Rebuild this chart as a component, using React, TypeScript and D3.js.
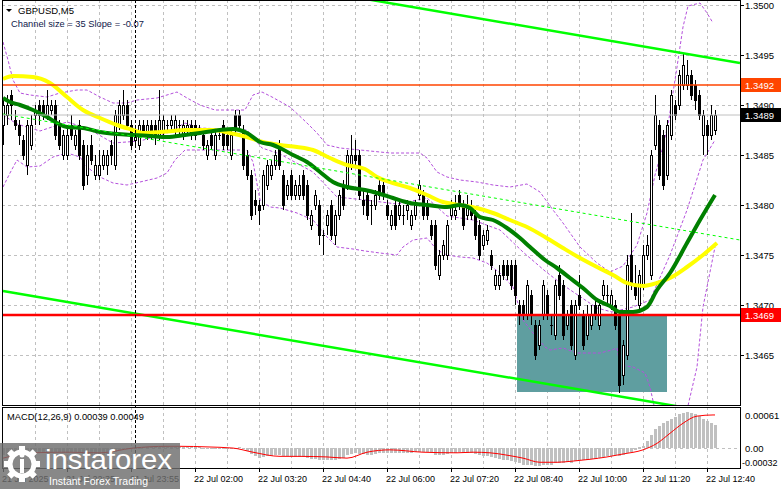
import * as d3 from "d3";

// GBPUSD M5 candles: [open, high, low, close]
const CANDLES: [number, number, number, number][] = [
  [1.3488, 1.34905, 1.3486, 1.349], [1.3489, 1.3491, 1.3488, 1.349], [1.3491, 1.34915, 1.34885, 1.349],
  [1.34885, 1.34895, 1.34875, 1.3488], [1.3488, 1.34885, 1.3486, 1.3487], [1.34865, 1.3487, 1.34845, 1.3485],
  [1.3484, 1.34885, 1.3483, 1.3488], [1.3486, 1.3489, 1.34855, 1.3488], [1.3489, 1.349, 1.3488, 1.34895],
  [1.349, 1.34905, 1.3488, 1.3489], [1.349, 1.34905, 1.34885, 1.3489], [1.3489, 1.34915, 1.34885, 1.349],
  [1.34895, 1.34905, 1.3489, 1.349], [1.349, 1.34905, 1.34865, 1.3487], [1.3488, 1.34885, 1.34855, 1.3486],
  [1.3485, 1.34875, 1.34845, 1.3487], [1.3485, 1.3488, 1.34845, 1.3487], [1.3488, 1.3489, 1.34865, 1.3487],
  [1.3486, 1.34875, 1.34855, 1.3487], [1.3488, 1.34885, 1.34845, 1.3485], [1.3486, 1.34865, 1.34815, 1.3482],
  [1.3483, 1.3486, 1.3482, 1.3485], [1.3486, 1.3487, 1.3484, 1.34845], [1.3483, 1.3485, 1.34825, 1.3484],
  [1.3483, 1.34855, 1.34825, 1.3484], [1.3484, 1.34855, 1.34835, 1.3485], [1.3484, 1.34855, 1.3483, 1.3485],
  [1.3486, 1.34865, 1.3484, 1.3485], [1.3484, 1.34895, 1.34835, 1.3489], [1.3488, 1.34905, 1.34875, 1.349],
  [1.3489, 1.34915, 1.34885, 1.349], [1.349, 1.34905, 1.34875, 1.3488], [1.3488, 1.34885, 1.34855, 1.3486],
  [1.34865, 1.3488, 1.3486, 1.3487], [1.3486, 1.34885, 1.34855, 1.3488], [1.3488, 1.34885, 1.3487, 1.34875],
  [1.3487, 1.34885, 1.34865, 1.3488], [1.3488, 1.34885, 1.34865, 1.3487], [1.3488, 1.34885, 1.3486, 1.3487],
  [1.3487, 1.34915, 1.34865, 1.34885], [1.34875, 1.3489, 1.3487, 1.34885], [1.3488, 1.34885, 1.34875, 1.3488],
  [1.3488, 1.3489, 1.34875, 1.34885], [1.34875, 1.3489, 1.3487, 1.34885], [1.3488, 1.34885, 1.3487, 1.3488],
  [1.3487, 1.34885, 1.34865, 1.3488], [1.34875, 1.34885, 1.3487, 1.3488], [1.3488, 1.34885, 1.34865, 1.3487],
  [1.3488, 1.34885, 1.34865, 1.3487], [1.34875, 1.3488, 1.3487, 1.34875], [1.3487, 1.34875, 1.34855, 1.3486],
  [1.3485, 1.34865, 1.34845, 1.3486], [1.3487, 1.34875, 1.34855, 1.3486], [1.3485, 1.34875, 1.34845, 1.3487],
  [1.3487, 1.34875, 1.34865, 1.3487], [1.3488, 1.34885, 1.34855, 1.3486], [1.3487, 1.34875, 1.34855, 1.3486],
  [1.3485, 1.34875, 1.34845, 1.3487], [1.3489, 1.34895, 1.3487, 1.34875], [1.3489, 1.34895, 1.34875, 1.3488],
  [1.34875, 1.3488, 1.34835, 1.3484], [1.3485, 1.34855, 1.34825, 1.3483], [1.3483, 1.34835, 1.34785, 1.3479],
  [1.34805, 1.34815, 1.3479, 1.348], [1.348, 1.34805, 1.3478, 1.34795], [1.348, 1.34835, 1.34795, 1.3483],
  [1.3482, 1.34845, 1.34815, 1.3484], [1.3483, 1.34845, 1.34825, 1.3484], [1.3484, 1.34855, 1.34835, 1.3485],
  [1.3486, 1.34865, 1.34835, 1.3484], [1.3483, 1.34835, 1.34795, 1.348], [1.3481, 1.34825, 1.34805, 1.3482],
  [1.3483, 1.34835, 1.34805, 1.3481], [1.3481, 1.34825, 1.34805, 1.3482], [1.3481, 1.3483, 1.34805, 1.3482],
  [1.3483, 1.34835, 1.34805, 1.3481], [1.3482, 1.34825, 1.34785, 1.3479], [1.3478, 1.34795, 1.34775, 1.3479],
  [1.348, 1.34815, 1.34795, 1.3481], [1.348, 1.34805, 1.3476, 1.3477], [1.3477, 1.34775, 1.3475, 1.3477],
  [1.3478, 1.34795, 1.3477, 1.3479], [1.348, 1.34805, 1.34765, 1.3477], [1.3477, 1.34795, 1.3476, 1.3479],
  [1.3479, 1.34815, 1.34785, 1.3481], [1.3482, 1.34825, 1.34795, 1.348], [1.3482, 1.34855, 1.34815, 1.3485],
  [1.3484, 1.3487, 1.34835, 1.3485], [1.3485, 1.34865, 1.3484, 1.34845], [1.3485, 1.34855, 1.34805, 1.3481],
  [1.34805, 1.34815, 1.3479, 1.348], [1.3481, 1.34815, 1.34785, 1.3479], [1.348, 1.34805, 1.3478, 1.348],
  [1.348, 1.34815, 1.34795, 1.3481], [1.3482, 1.34825, 1.34805, 1.3481], [1.3482, 1.34825, 1.34805, 1.3481],
  [1.348, 1.34805, 1.34785, 1.3479], [1.3478, 1.34795, 1.34775, 1.3479], [1.348, 1.34805, 1.34775, 1.3478],
  [1.3479, 1.34805, 1.34785, 1.348], [1.3479, 1.348, 1.3478, 1.3479], [1.34795, 1.34805, 1.34785, 1.348],
  [1.3478, 1.34795, 1.34775, 1.3479], [1.3479, 1.34805, 1.34785, 1.348], [1.3481, 1.34825, 1.34805, 1.3482],
  [1.3481, 1.34815, 1.34785, 1.3479], [1.348, 1.34805, 1.34785, 1.3479], [1.3478, 1.34785, 1.34765, 1.3477],
  [1.3478, 1.34785, 1.34735, 1.3474], [1.3473, 1.34755, 1.34725, 1.3475], [1.3475, 1.34765, 1.34745, 1.3476],
  [1.3475, 1.34785, 1.34745, 1.3478], [1.3479, 1.34805, 1.34785, 1.348], [1.3479, 1.3481, 1.34785, 1.34795],
  [1.3481, 1.34815, 1.34795, 1.348], [1.348, 1.34805, 1.34775, 1.3478], [1.3479, 1.3481, 1.34785, 1.348],
  [1.348, 1.34805, 1.34785, 1.3479], [1.3479, 1.34795, 1.34765, 1.3477], [1.3478, 1.34785, 1.34745, 1.3475],
  [1.3476, 1.34775, 1.34755, 1.3477], [1.34765, 1.3478, 1.3476, 1.34775], [1.3475, 1.34755, 1.34735, 1.3474],
  [1.3472, 1.34735, 1.34715, 1.3473], [1.3472, 1.3474, 1.34715, 1.3473], [1.3474, 1.34745, 1.34725, 1.3473],
  [1.3474, 1.34745, 1.34725, 1.3473], [1.3474, 1.34745, 1.34715, 1.3472], [1.3474, 1.34745, 1.347, 1.3471],
  [1.347, 1.34705, 1.3468, 1.3469], [1.347, 1.34705, 1.34685, 1.3469], [1.3469, 1.34725, 1.34685, 1.3472],
  [1.3471, 1.34715, 1.3468, 1.3469], [1.3468, 1.34685, 1.34645, 1.3465], [1.3466, 1.34685, 1.34655, 1.3468],
  [1.3469, 1.34725, 1.34685, 1.3472], [1.3471, 1.34715, 1.34685, 1.3469], [1.3468, 1.3469, 1.3467, 1.3468],
  [1.3467, 1.34725, 1.34665, 1.3472], [1.3473, 1.3474, 1.34705, 1.3471], [1.3472, 1.34725, 1.34665, 1.3467],
  [1.3468, 1.34695, 1.34675, 1.3469], [1.347, 1.34705, 1.34655, 1.3466], [1.3465, 1.34705, 1.34645, 1.347],
  [1.3471, 1.3473, 1.34695, 1.347], [1.3469, 1.34695, 1.34655, 1.3466], [1.3467, 1.347, 1.34665, 1.3469],
  [1.3468, 1.347, 1.34675, 1.3469], [1.347, 1.34705, 1.34685, 1.3469], [1.3468, 1.34705, 1.34675, 1.347],
  [1.3471, 1.34725, 1.34705, 1.3472], [1.3471, 1.3472, 1.347, 1.3471], [1.347, 1.34715, 1.34695, 1.3471],
  [1.347, 1.34705, 1.34675, 1.3468], [1.3469, 1.34695, 1.34612, 1.3462], [1.3463, 1.34665, 1.3462, 1.3466],
  [1.3465, 1.3475, 1.34645, 1.3474], [1.3475, 1.34792, 1.34715, 1.3472], [1.3472, 1.3474, 1.34705, 1.3471],
  [1.347, 1.34735, 1.34695, 1.3473], [1.3472, 1.3476, 1.34715, 1.3475], [1.3475, 1.3477, 1.34745, 1.3476],
  [1.3473, 1.34855, 1.34725, 1.3485], [1.3486, 1.3491, 1.34855, 1.3489], [1.3488, 1.34885, 1.34825, 1.3483],
  [1.3487, 1.34875, 1.34815, 1.3482], [1.3483, 1.34885, 1.34825, 1.3488], [1.3487, 1.34915, 1.34865, 1.3491],
  [1.349, 1.34905, 1.34885, 1.3489], [1.349, 1.34935, 1.34895, 1.3493], [1.3492, 1.34952, 1.34915, 1.3494],
  [1.3492, 1.34945, 1.34915, 1.3493], [1.3493, 1.34935, 1.34905, 1.3491], [1.3492, 1.34925, 1.34895, 1.34905],
  [1.3491, 1.34915, 1.34885, 1.3489], [1.3487, 1.34895, 1.3485, 1.3489], [1.3488, 1.34885, 1.3485, 1.3487],
  [1.3487, 1.349, 1.34865, 1.3489], [1.34875, 1.34895, 1.3487, 1.3489],
];

// [bar index, price]
const MA_SLOW = [
  [0, 1.34926], [2.5, 1.34929], [7.5, 1.34928], [11.75, 1.34922], [16, 1.34908], [20, 1.34895],
  [24.25, 1.34887], [28.5, 1.3488], [32.5, 1.34875], [35, 1.34872], [39.25, 1.34873], [42.5, 1.34874],
  [45.5, 1.34875], [52.5, 1.34875], [56.75, 1.34872], [61, 1.34868], [65, 1.34863], [69.25, 1.3486],
  [73.5, 1.34858], [77.5, 1.34855], [81.75, 1.34847], [86, 1.3484], [90.5, 1.34836], [93.5, 1.34828],
  [97.5, 1.34822], [101.75, 1.34817], [106, 1.3481], [110, 1.34803], [114.25, 1.348], [118.5, 1.34797],
  [122.5, 1.34792], [126.75, 1.34785], [131, 1.34778], [135.5, 1.34768], [140, 1.34757], [144.25, 1.34747],
  [148.5, 1.34738], [152.5, 1.3473], [156, 1.34722], [160, 1.34719], [163.5, 1.34722], [166.75, 1.34727],
  [171, 1.34738], [175, 1.3475], [178.5, 1.34762],
];

const MA_FAST = [
  [0, 1.34907], [1.75, 1.34903], [4.25, 1.349], [7.5, 1.34895], [11, 1.34888], [13.5, 1.34882],
  [16, 1.34878], [20, 1.34877], [24.25, 1.34873], [28.5, 1.34871], [32.5, 1.3487], [36.75, 1.34869],
  [41, 1.34868], [45.5, 1.3487], [49.25, 1.34872], [54.25, 1.34875], [57.5, 1.34876], [61, 1.34872],
  [64.25, 1.34863], [67.5, 1.3486], [69.25, 1.34857], [72.5, 1.3485], [76, 1.34843], [79.25, 1.34833],
  [82.5, 1.34823], [86, 1.34818], [90.5, 1.34815], [93.5, 1.34812], [97.5, 1.34807], [101.75, 1.34802],
  [106, 1.348], [111, 1.34798], [114.25, 1.348], [116.75, 1.34797], [119.25, 1.34788], [122.5, 1.34785],
  [126, 1.34777], [129.25, 1.34767], [131.75, 1.34758], [135.5, 1.34745], [138.5, 1.34737], [141.75, 1.34727],
  [145, 1.34717], [148.5, 1.34705], [151.75, 1.34699], [154.25, 1.34693], [157.5, 1.34693], [161, 1.34698],
  [163.5, 1.34715], [166.75, 1.34732], [171, 1.34762], [174.25, 1.34785], [178, 1.3481],
];

const BB_UPPER = [
  [0, 1.34963], [1.25, 1.34945], [2.5, 1.34925], [4.25, 1.34912], [6.75, 1.3491], [11, 1.34908],
  [14.25, 1.34912], [18.5, 1.34915], [21, 1.34915], [24.25, 1.34908], [27.5, 1.34902], [31, 1.34902],
  [33.5, 1.34905], [38.5, 1.34907], [43.5, 1.34913], [46, 1.34907], [49.25, 1.349], [53, 1.34895],
  [60.5, 1.34895], [62.5, 1.3491], [64.75, 1.34913], [67.25, 1.34908], [71.75, 1.34898], [76, 1.34882],
  [78.5, 1.34872], [81, 1.3486], [84.25, 1.34857], [89.25, 1.34855], [96.75, 1.34852], [104.25, 1.34852],
  [106, 1.34847], [108.5, 1.34833], [111, 1.34828], [114.25, 1.34825], [118.5, 1.34823], [122.5, 1.3482],
  [126.75, 1.34818], [131, 1.34821], [134.25, 1.34813], [137.5, 1.34795], [140, 1.34782], [144.25, 1.34758],
  [148.5, 1.34742], [151.75, 1.34733], [155, 1.34739], [158.5, 1.3476], [161, 1.34792], [163, 1.3483],
  [164.75, 1.34855], [166.25, 1.3488], [168.5, 1.34938], [170, 1.34978], [171.25, 1.34999], [174.25, 1.35002],
  [176, 1.34992], [177.5, 1.34982],
];

const BB_MID = [
  [0, 1.3489], [3.5, 1.34881], [9.25, 1.34874], [16, 1.34883], [21, 1.34877], [27.5, 1.34862],
  [34.25, 1.34864], [41, 1.34872], [45.5, 1.34882], [49.25, 1.34877], [61, 1.34875], [64.75, 1.34857],
  [69.25, 1.34851], [77.5, 1.34833], [83.5, 1.34808], [90.5, 1.34805], [98.5, 1.34801], [106, 1.34807],
  [111, 1.34789], [117.5, 1.34785], [124.25, 1.34775], [130, 1.34753], [135.5, 1.34734], [140, 1.3472],
  [148.5, 1.34697], [152.25, 1.34693], [157.5, 1.34698], [161.75, 1.34705], [166.75, 1.3475], [171, 1.34795],
  [175, 1.34845], [178, 1.34865],
];

const BB_LOWER = [
  [0, 1.34818], [1.75, 1.34832], [3.5, 1.34845], [6, 1.34838], [9.25, 1.34839], [12.5, 1.34848],
  [16, 1.34852], [19.25, 1.34848], [21, 1.34838], [24.25, 1.34828], [27.5, 1.34822], [31, 1.3482],
  [34.25, 1.34823], [38.5, 1.34827], [41, 1.34832], [43, 1.34845], [45.5, 1.34855], [49.25, 1.34855],
  [61, 1.34855], [62.5, 1.34843], [64.25, 1.34805], [66.75, 1.34798], [69.25, 1.34797], [73.5, 1.34792],
  [77.5, 1.34785], [81, 1.34768], [83.5, 1.34758], [87.5, 1.34756], [90.5, 1.34754], [94.25, 1.34752],
  [98.5, 1.3475], [100, 1.34758], [102.5, 1.34765], [106, 1.34767], [108.5, 1.34755], [111, 1.3475],
  [114.25, 1.34748], [117.5, 1.34747], [121, 1.34742], [124.25, 1.34732], [127.5, 1.34718], [130, 1.34685],
  [132.5, 1.34672], [135.5, 1.34658], [136.75, 1.34655], [140, 1.34657], [143.5, 1.34652], [149.25, 1.34652],
  [152.25, 1.34655], [153.5, 1.34657], [154.25, 1.3464], [157.5, 1.34638], [160.5, 1.34632], [161.75, 1.34618],
  [163, 1.34595], [166.75, 1.34565], [171, 1.34595], [173.5, 1.34638], [175, 1.34698], [178, 1.34758],
];

// regression channel (size 35, slope -0.07): middle line at both chart edges
const CHANNEL_IDX = [0, 184.25];
const CHANNEL_MID = [1.34891, 1.34765];
const CHANNEL_HALF = 0.00177;

const MACD_HIST = [
  -0.00012, -0.00014, -0.00015, -0.00014, -0.00013, -0.00012, -0.00011, -0.0001, -0.00009, -0.00009, -0.00008,
  -0.00007, -0.00006, -0.00006, -0.00007, -0.00008, -0.00008, -0.00007, -0.00007, -0.00008, -0.0001,
  -0.00011, -0.00011, -0.00012, -0.00012, -0.00011, -0.0001, -0.00009, -0.00006, -0.00003, -0.00001, 0, -0.00001,
  -0.00001, 0, 0.00001, 0.00001, 0.00001, 0.00002, 0.00002, 0.00002, 0.00002, 0.00002, 0.00002, 0.00002, 0.00002,
  0.00002, 0.00001, 0.00001, 0.00001, 0, -0.00001, -0.00001, -0.00001, -0.00001, -0.00002, -0.00002, -0.00002, 0, 0.00001,
  -0.00002, -0.00005, -0.0001, -0.00013, -0.00016, -0.00015, -0.00014, -0.00013, -0.00012, -0.00012, -0.00014, -0.00014, -0.00015,
  -0.00015, -0.00015, -0.00015, -0.00017, -0.00018, -0.00018, -0.0002, -0.00021, -0.00021, -0.00021, -0.0002, -0.00019, -0.00016, -0.00012,
  -0.0001, -0.00009, -0.0001, -0.0001, -0.00011, -0.00011, -0.0001, -0.00009, -0.00008, -0.00008, -0.00008, -0.00008, -0.00008, -0.00008,
  -0.00008, -0.00008, -0.00007, -0.00006, -0.00007, -0.00007, -0.00008, -0.00011, -0.00012, -0.00012, -0.0001, -0.00008, -0.00008, -0.00007, -0.00008,
  -0.00008, -0.00009, -0.0001, -0.00012, -0.00013, -0.00013, -0.00015, -0.00017, -0.00019, -0.0002, -0.00021, -0.00022, -0.00023, -0.00026, -0.00028,
  -0.00028, -0.00029, -0.00031, -0.00031, -0.00029, -0.00028, -0.00028, -0.00026, -0.00025, -0.00025, -0.00024, -0.00025, -0.00022, -0.00021, -0.00021,
  -0.0002, -0.00019, -0.00018, -0.00017, -0.00015, -0.00014, -0.00013, -0.00012, -0.00013, -0.00011, -0.00008, -0.00006,
  -0.00004, 0.00001, 0.00004, 0.00012, 0.00022, 0.00033, 0.00038, 0.00042, 0.00046, 0.0005, 0.00053, 0.00057, 0.0006,
  0.00061, 0.00059, 0.00057, 0.00054, 0.0005, 0.00046, 0.00042, 0.00039,
];

const MACD_SIGNAL = [
  [0, -0.00017], [7.5, -0.00008], [16, -0.00007], [24.25, -0.00008], [32.5, 0], [41, 0.00003],
  [44.25, 0.00003], [51, 0.00002], [57.5, 0], [62.5, -0.00007], [69.25, -0.00014], [74.25, -0.00014],
  [81, -0.00015], [86, -0.00017], [91, -0.00007], [96.75, -0.00003], [105, -0.00007], [113.5, -0.00008],
  [117.5, -0.00007], [121.75, -0.00008], [126, -0.00012], [130, -0.00017], [134.25, -0.00024], [138.5, -0.00024],
  [142.5, -0.00022], [146.75, -0.00019], [151, -0.00015], [155, -0.0001], [160, -0.00003], [163.5, 0.00008],
  [166.75, 0.00025], [170, 0.00042], [173.5, 0.00054], [177.5, 0.00056], [178, 0.00056],
];

const PRICE_TICKS = [1.3465, 1.347, 1.3475, 1.348, 1.3485, 1.349, 1.3495, 1.35];
const TIME_LABELS = [
  "21 Jul 2025", "21 Jul 22:35", "21 Jul 23:55", "22 Jul 02:00", "22 Jul 03:20", "22 Jul 04:40",
  "22 Jul 06:00", "22 Jul 07:20", "22 Jul 08:40", "22 Jul 10:00", "22 Jul 11:20", "22 Jul 12:40",
];
const LABEL_STEP = 16;
const GRID_STEP = 8;
const DAY_SEPARATOR = 33;

const LEVEL_HIGH = 1.3492;
const LEVEL_LOW = 1.3469;
const LAST_PRICE = 1.3489;
const ZONE = { from: 128.5, to: 166, top: 1.3469, bottom: 1.34613 };

const MACD_MAX = 0.00061;
const MACD_MIN = -0.00032;

const FONT = "'Liberation Sans', Arial, sans-serif";
const W = 781;
const H = 489;
const PLOT_R = 740;
const MAIN_B = 405;
const SUB_T = 407;
const SUB_B = 468;

export default function App() {
  const x = d3.scaleLinear().domain([0, 178]).range([3, 715]);
  const y = d3.scaleLinear().domain([1.3465, 1.35]).range([355, 5]);
  const ym = d3.scaleLinear().domain([MACD_MIN, MACD_MAX]).range([467, 412]);

  const priceLine = d3
    .line<number[]>()
    .x((d) => x(d[0]))
    .y((d) => y(d[1]))
    .curve(d3.curveMonotoneX);
  const bandLine = d3
    .line<number[]>()
    .x((d) => x(d[0]))
    .y((d) => y(d[1]));
  const sigLine = d3
    .line<number[]>()
    .x((d) => x(d[0]))
    .y((d) => ym(d[1]))
    .curve(d3.curveMonotoneX);

  const chan = (off: number) =>
    bandLine(CHANNEL_IDX.map((i, k) => [i, CHANNEL_MID[k] + off])) ?? "";

  const gridIdx = d3.range(GRID_STEP, 179, GRID_STEP);
  const px = (i: number) => Math.round(x(i)) + 0.5;

  const priceBox = (p: number, bg: string) => {
    const cy = Math.round(y(p));
    return (
      <g key={`box${p}`}>
        <rect x={741} y={cy - 7} width={40} height={14} fill={bg} />
        <text x={745} y={cy + 3.5} fill="#fff" fontSize={9.5}>
          {p.toFixed(4)}
        </text>
      </g>
    );
  };

  return (
    <div style={{ position: "absolute", left: 0, top: 0 }}>
      <svg width={W} height={H} style={{ display: "block", fontFamily: FONT }}>
        <defs>
          <clipPath id="main">
            <rect x={2} y={0} width={PLOT_R - 2} height={MAIN_B} />
          </clipPath>
          <clipPath id="sub">
            <rect x={2} y={SUB_T} width={PLOT_R - 2} height={SUB_B - SUB_T} />
          </clipPath>
        </defs>
        <rect width={W} height={H} fill="#fff" />

        {/* grid */}
        <g stroke="#c0c0c0" strokeDasharray="3 3" shapeRendering="crispEdges">
          {PRICE_TICKS.map((p) => (
            <line key={p} x1={2} x2={PLOT_R} y1={Math.round(y(p)) + 0.5} y2={Math.round(y(p)) + 0.5} />
          ))}
          {gridIdx.map((i) => (
            <g key={i}>
              <line x1={px(i)} x2={px(i)} y1={0} y2={MAIN_B} />
              <line x1={px(i)} x2={px(i)} y1={SUB_T} y2={SUB_B} />
            </g>
          ))}
          <line x1={2} x2={PLOT_R} y1={Math.round(ym(0)) + 0.5} y2={Math.round(ym(0)) + 0.5} />
        </g>

        {/* zone rectangle */}
        <rect
          x={x(ZONE.from)}
          y={y(ZONE.top)}
          width={x(ZONE.to) - x(ZONE.from)}
          height={y(ZONE.bottom) - y(ZONE.top)}
          fill="#5f9ea0"
        />

        <g clipPath="url(#main)">
          {/* bollinger */}
          <g fill="none" stroke="#b450dc" strokeWidth={1} strokeDasharray="3 2">
            <path d={bandLine(BB_UPPER) ?? ""} />
            <path d={bandLine(BB_MID) ?? ""} />
            <path d={bandLine(BB_LOWER) ?? ""} />
          </g>

          {/* candles */}
          <g shapeRendering="crispEdges">
            {CANDLES.map(([o, h, l, c], i) => {
              const cx = px(i);
              const top = Math.round(y(Math.max(o, c)));
              const bot = Math.round(y(Math.min(o, c)));
              const up = c >= o;
              return (
                <g key={i}>
                  <line x1={cx} x2={cx} y1={Math.round(y(h))} y2={Math.round(y(l))} stroke="#000" />
                  {bot - top < 1 ? (
                    <line x1={cx - 1.5} x2={cx + 1.5} y1={top + 0.5} y2={top + 0.5} stroke="#000" />
                  ) : (
                    <rect
                      x={cx - 1}
                      y={top + 0.5}
                      width={2}
                      height={bot - top}
                      fill={up ? "#fff" : "#000"}
                      stroke="#000"
                    />
                  )}
                </g>
              );
            })}
          </g>

          {/* moving averages */}
          <path d={priceLine(MA_SLOW) ?? ""} fill="none" stroke="#ffff00" strokeWidth={4} />
          <path d={priceLine(MA_FAST) ?? ""} fill="none" stroke="#008000" strokeWidth={4} />

          {/* regression channel */}
          <path d={chan(CHANNEL_HALF)} stroke="#00ff00" strokeWidth={2.5} fill="none" />
          <path d={chan(-CHANNEL_HALF)} stroke="#00ff00" strokeWidth={2.5} fill="none" />
          <path d={chan(0)} stroke="#00ff00" strokeWidth={1} strokeDasharray="3 3" fill="none" />

          {/* levels */}
          <line x1={2} x2={PLOT_R} y1={y(LAST_PRICE)} y2={y(LAST_PRICE)} stroke="#c0c0c0" />
          <line x1={2} x2={PLOT_R} y1={y(LEVEL_HIGH)} y2={y(LEVEL_HIGH)} stroke="#ff4500" strokeWidth={1.5} />
          <line x1={2} x2={PLOT_R} y1={y(LEVEL_LOW)} y2={y(LEVEL_LOW)} stroke="#ff0000" strokeWidth={2.5} />
        </g>

        {/* MACD */}
        <g clipPath="url(#sub)">
          <g fill="#c0c0c0" shapeRendering="crispEdges">
            {MACD_HIST.map((v, i) => {
              const y0 = ym(0);
              const y1 = ym(v);
              return (
                <rect
                  key={i}
                  x={Math.round(x(i)) - 1}
                  y={Math.min(y0, y1)}
                  width={3}
                  height={Math.max(Math.abs(y1 - y0), 0.5)}
                />
              );
            })}
          </g>
          <path d={sigLine(MACD_SIGNAL) ?? ""} fill="none" stroke="#ff0000" strokeWidth={1} />
        </g>

        {/* day separator */}
        <line
          x1={px(DAY_SEPARATOR)}
          x2={px(DAY_SEPARATOR)}
          y1={0}
          y2={SUB_B}
          stroke="#000"
          strokeDasharray="3 2"
          shapeRendering="crispEdges"
        />

        {/* frames */}
        <g fill="none" stroke="#000" shapeRendering="crispEdges">
          <rect x={2.5} y={0.5} width={PLOT_R - 2} height={MAIN_B} />
          <rect x={2.5} y={SUB_T + 0.5} width={PLOT_R - 2} height={SUB_B - SUB_T} />
        </g>

        {/* price axis */}
        <g fontSize={9.5} fill="#000">
          {PRICE_TICKS.map((p) => (
            <g key={p}>
              <line x1={PLOT_R} x2={PLOT_R + 4} y1={Math.round(y(p)) + 0.5} y2={Math.round(y(p)) + 0.5} stroke="#000" />
              <text x={745} y={y(p) + 3.5}>
                {p.toFixed(4)}
              </text>
            </g>
          ))}
        </g>
        {priceBox(LEVEL_HIGH, "#ff4500")}
        {priceBox(LAST_PRICE, "#000")}
        {priceBox(LEVEL_LOW, "#ff0000")}

        {/* MACD axis */}
        <g fontSize={9.5} fill="#000">
          <text x={745} y={ym(MACD_MAX) + 6.5}>{MACD_MAX.toFixed(5)}</text>
          <text x={745} y={ym(0) + 3.5}>0.00</text>
          <text x={742} y={ym(MACD_MIN) - 1.5} fontSize={9}>{MACD_MIN.toFixed(5)}</text>
        </g>

        {/* time axis */}
        <g fontSize={9} fill="#000">
          {TIME_LABELS.map((t, k) => {
            const i = k * LABEL_STEP;
            return (
              <g key={t}>
                <line x1={px(i)} x2={px(i)} y1={SUB_B} y2={SUB_B + 4} stroke="#000" />
                <text x={Math.round(x(i)) - 1} y={482}>
                  {t}
                </text>
              </g>
            );
          })}
        </g>

        {/* headers */}
        <path d="M6,9 L12,9 L9,12 Z" fill="#000" />
        <text x={18} y={14} fontSize={9.5} fill="#000">
          GBPUSD,M5
        </text>
        <text x={11} y={27} fontSize={9.3} fill="#10204a">
          Channel size = 35 Slope = -0.07
        </text>
        <text x={7} y={420} fontSize={9.3} fill="#000">
          MACD(12,26,9) 0.00039 0.00049
        </text>

        {/* watermark */}
        <g>
          <rect x={0} y={443} width={180} height={46} fill="#6e6e6e" fillOpacity={0.82} />
          <g fill="#fff">
            <circle cx={22} cy={464} r={12} fill="none" stroke="#fff" strokeWidth={5} />
            {d3.range(8).map((k) => (
              <rect
                key={k}
                x={19}
                y={446}
                width={6}
                height={6}
                transform={`rotate(${k * 45} 22 464)`}
              />
            ))}
            <rect x={20} y={459} width={4} height={14} />
            <circle cx={22} cy={455} r={2.5} />
          </g>
          <text x={45} y={469} fontSize={28} fill="#fff" textLength={127} lengthAdjust="spacingAndGlyphs">
            instaforex
          </text>
          <text x={49} y={485} fontSize={11} fill="#fff" textLength={99} lengthAdjust="spacingAndGlyphs">
            Instant Forex Trading
          </text>
        </g>
      </svg>
    </div>
  );
}
